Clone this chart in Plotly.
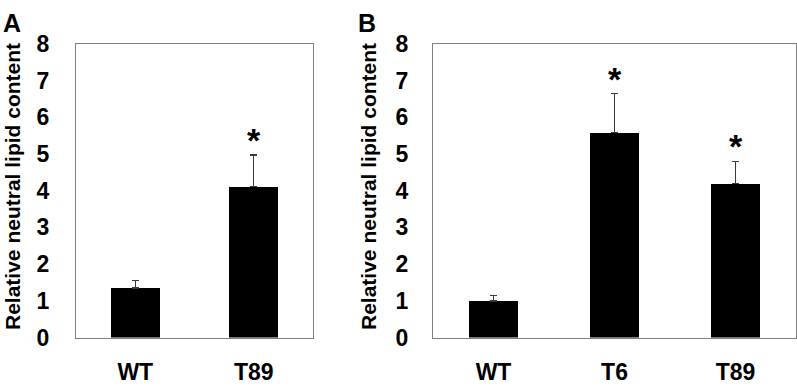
import plotly.graph_objects as go

# Panel A data
cats_a = ["WT", "T89"]
vals_a = [1.35, 4.11]
err_a = [0.20, 0.86]
sig_a = [False, True]

# Panel B data
cats_b = ["WT", "T6", "T89"]
vals_b = [1.0, 5.59, 4.2]
err_b = [0.15, 1.05, 0.6]
sig_b = [False, True, True]

y_ticks = [0, 1, 2, 3, 4, 5, 6, 7, 8]
y_title = "Relative neutral lipid content"

W, H = 797, 387
FONT = "Liberation Sans"

fig = go.Figure()

def add_bars(cats, vals, errs, xa, ya):
    fig.add_trace(go.Bar(
        x=cats, y=vals, xaxis=xa, yaxis=ya,
        marker=dict(color="black", line=dict(width=0)),
        width=0.41,
        error_y=dict(type="data", array=errs, arrayminus=[0] * len(errs),
                     symmetric=False, color="#3a3a3a", thickness=1.3, width=3.5),
        showlegend=False,
    ))

add_bars(cats_a, vals_a, err_a, "x", "y")
add_bars(cats_b, vals_b, err_b, "x2", "y2")

def px_x(p):
    return p / W

def px_y(p):
    return 1 - p / H

def bold(s):
    return "<b>%s</b>" % s

axis_common = dict(showline=True, linecolor="#808080", linewidth=1, mirror=True,
                   showgrid=False, zeroline=False, ticks="",
                   tickfont=dict(family=FONT, size=23, color="black"))

fig.update_layout(
    width=W, height=H, margin=dict(l=0, r=0, t=0, b=0),
    paper_bgcolor="white", plot_bgcolor="white",
    bargap=0,
    xaxis=dict(domain=[px_x(76), px_x(313)], anchor="y", ticklabelstandoff=14,
               tickmode="array", tickvals=cats_a, ticktext=[bold(c) for c in cats_a], **axis_common),
    yaxis=dict(domain=[px_y(348), px_y(33)], anchor="x", range=[0, 8], tickmode="array",
               tickvals=y_ticks, ticktext=[bold(t) for t in y_ticks],
               ticklabelstandoff=21, **axis_common),
    xaxis2=dict(domain=[px_x(433), px_x(796)], anchor="y2", ticklabelstandoff=14,
                tickmode="array", tickvals=cats_b, ticktext=[bold(c) for c in cats_b], **axis_common),
    yaxis2=dict(domain=[px_y(348), px_y(33)], anchor="x2", range=[0, 8], tickmode="array",
                tickvals=y_ticks, ticktext=[bold(t) for t in y_ticks],
                ticklabelstandoff=19, **axis_common),
)

# Asterisks
for cats, vals, errs, sig, xr, yr in [(cats_a, vals_a, err_a, sig_a, "x", "y"),
                                       (cats_b, vals_b, err_b, sig_b, "x2", "y2")]:
    for c, v, e, s in zip(cats, vals, errs, sig):
        if s:
            fig.add_annotation(x=c, y=v + e, xref=xr, yref=yr, text=bold("*"), showarrow=False,
                               yanchor="bottom", yshift=-6,
                               font=dict(family=FONT, size=34, color="black"))

# Y titles
for xl in [0, 356]:
    fig.add_annotation(x=px_x(xl), y=px_y(186), xref="paper", yref="paper", text=bold(y_title),
                       textangle=-90, showarrow=False, xanchor="left", yanchor="middle",
                       borderpad=0,
                       font=dict(family=FONT, size=21, color="black"))

# Panel letters
for txt, xc in [("A", 12), ("B", 367)]:
    fig.add_annotation(x=px_x(xc), y=px_y(11), xref="paper", yref="paper", text=bold(txt),
                       showarrow=False, xanchor="center", yanchor="middle",
                       font=dict(family=FONT, size=25, color="black"))

fig.write_html("out.html")
